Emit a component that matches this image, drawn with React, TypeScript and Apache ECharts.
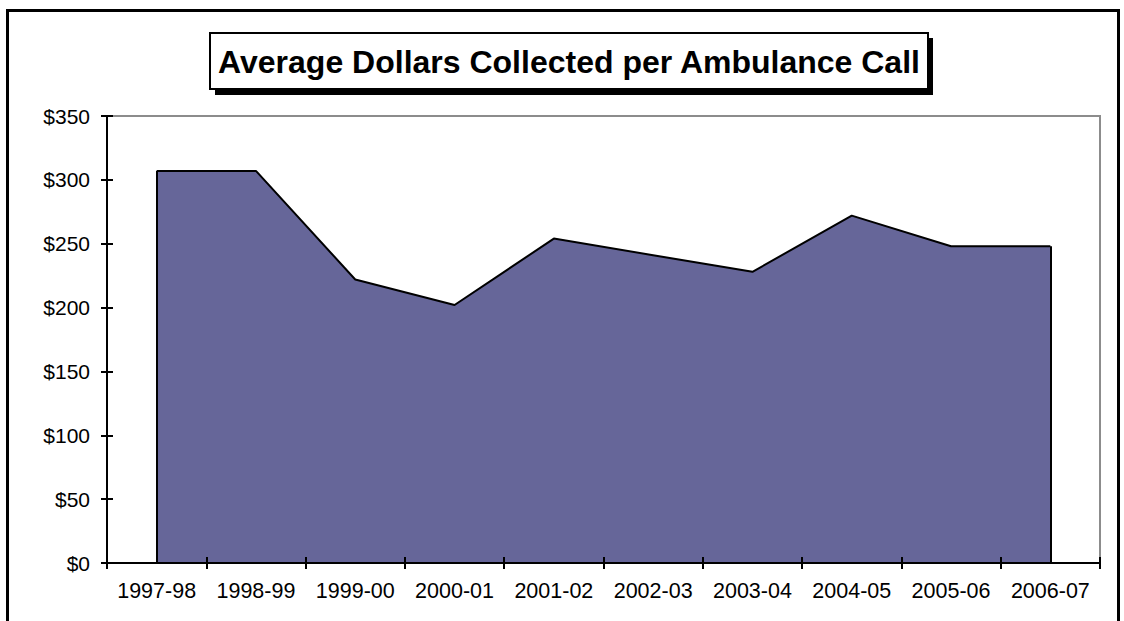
import React, { useEffect, useRef } from "react";
import * as echarts from "echarts";

const categories = ["1997-98", "1998-99", "1999-00", "2000-01", "2001-02", "2002-03", "2003-04", "2004-05", "2005-06", "2006-07"];
const values = [307, 307, 222, 202, 254, 241, 228, 272, 248, 248];
const titleText = "Average Dollars Collected per Ambulance Call";
const yMin = 0;
const yMax = 350;
const yStep = 50;

const FONT = "'Liberation Sans', Arial, sans-serif";

export default function App() {
  const ref = useRef<HTMLDivElement>(null);
  useEffect(() => {
    if (!ref.current) return;
    const chart = echarts.init(ref.current, null, { renderer: "svg" });
    const last = categories.length - 1;
    const edgeLines = [
      [{ coord: [categories[0], 0] }, { coord: [categories[0], values[0]] }],
      [{ coord: [categories[last], 0] }, { coord: [categories[last], values[last]] }],
    ];
    chart.setOption({
      animation: false,
      backgroundColor: "#ffffff",
      grid: {
        left: 107,
        top: 116,
        right: 24,
        bottom: 58,
        show: true,
        borderColor: "#8c8c8c",
        borderWidth: 2,
        backgroundColor: "transparent",
      },
      xAxis: [
        {
          type: "category",
          data: categories,
          boundaryGap: true,
          axisLine: { show: true, lineStyle: { color: "#000", width: 2 } },
          axisTick: { show: true, inside: false, length: 6, lineStyle: { color: "#000", width: 2 } },
          axisLabel: { color: "#000", fontSize: 21.5, fontFamily: FONT, margin: 17, interval: 0 },
          splitLine: { show: false },
          z: 5,
        },
        {
          type: "category",
          data: categories,
          boundaryGap: true,
          position: "bottom",
          axisLine: { show: false },
          axisTick: { show: true, inside: true, length: 6, lineStyle: { color: "#000", width: 2 } },
          axisLabel: { show: false },
          splitLine: { show: false },
          z: 5,
        },
      ],
      yAxis: [
        {
          type: "value",
          min: yMin,
          max: yMax,
          interval: yStep,
          axisLine: { show: true, lineStyle: { color: "#000", width: 2 } },
          axisTick: { show: true, inside: false, length: 6, lineStyle: { color: "#000", width: 2 } },
          axisLabel: { color: "#000", fontSize: 21, fontFamily: FONT, margin: 17, formatter: (v: number) => "$" + v },
          splitLine: { show: false },
          z: 5,
        },
        {
          type: "value",
          min: yMin,
          max: yMax,
          interval: yStep,
          position: "left",
          axisLine: { show: false },
          axisTick: { show: true, inside: true, length: 6, lineStyle: { color: "#000", width: 2 } },
          axisLabel: { show: false },
          splitLine: { show: false },
          z: 5,
        },
      ],
      series: [
        {
          type: "line",
          data: values,
          symbol: "none",
          lineStyle: { color: "#000", width: 2 },
          areaStyle: { color: "#666699", opacity: 1 },
          z: 2,
          markLine: {
            silent: true,
            symbol: "none",
            label: { show: false },
            lineStyle: { color: "#000", width: 2, type: "solid" },
            data: edgeLines,
          },
        },
      ],
      graphic: [
        {
          type: "rect",
          shape: { x: 7.5, y: 10.5, width: 1111, height: 700 },
          style: { fill: "none", stroke: "#000", lineWidth: 3 },
          z: 10,
        },
        {
          type: "rect",
          shape: { x: 215, y: 38, width: 718, height: 57 },
          style: { fill: "#000" },
          z: 10,
        },
        {
          type: "rect",
          shape: { x: 210, y: 33, width: 718, height: 56 },
          style: { fill: "#fff", stroke: "#000", lineWidth: 2 },
          z: 11,
        },
        {
          type: "text",
          x: 569,
          y: 62,
          style: {
            text: titleText,
            fill: "#000",
            font: "bold 32px 'Liberation Sans', Arial, sans-serif",
            textAlign: "center",
            textVerticalAlign: "middle",
          },
          z: 12,
        },
      ],
    });
    return () => chart.dispose();
  }, []);
  return (
    <div
      ref={ref}
      style={{ position: "absolute", left: 0, top: 0, width: 1124, height: 621 }}
    />
  );
}
